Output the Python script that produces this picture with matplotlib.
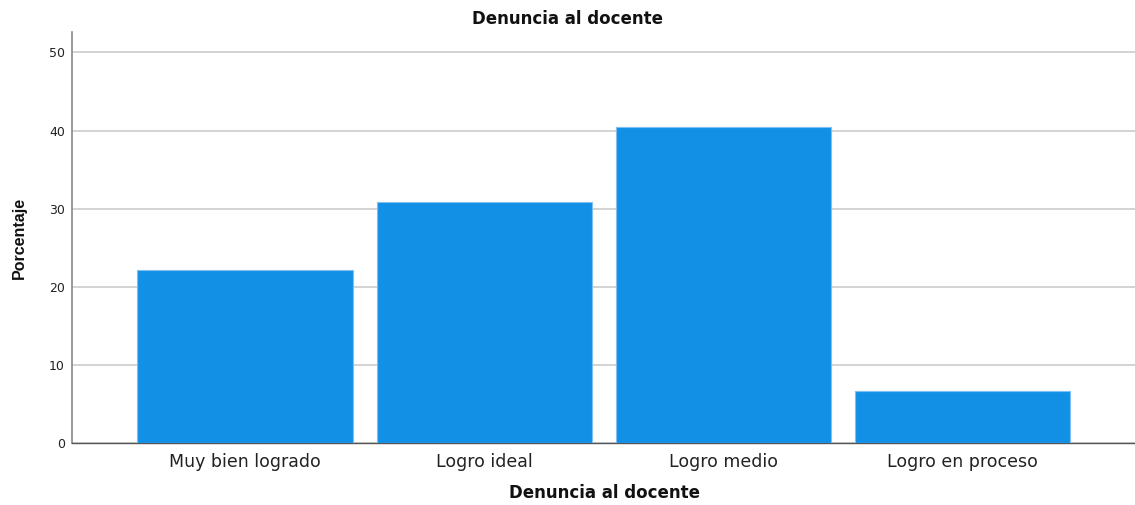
import matplotlib
matplotlib.use("Agg")
import matplotlib.pyplot as plt

categories = ["Muy bien logrado", "Logro ideal", "Logro medio", "Logro en proceso"]
percentages = [22.1, 30.8, 40.4, 6.7]
yticks = [0, 10, 20, 30, 40, 50]
title = "Denuncia al docente"
xlabel = "Denuncia al docente"
ylabel = "Porcentaje"

fig = plt.figure(figsize=(11.35, 5.05), dpi=100)
ax = fig.add_axes([0.0634, 0.1222, 0.9366, 0.8144])

x = list(range(len(categories)))
ax.bar(x, percentages, width=0.9, color="#1290E6", edgecolor="#7FC0F0", linewidth=0.8, zorder=3)

ax.set_xlim(-0.723, 3.72)
ax.set_ylim(0, 52.6)
ax.set_yticks(yticks)
ax.set_yticklabels([str(v) for v in yticks], fontsize=9, family="DejaVu Sans", color="#222222")
ax.set_xticks(x)
ax.set_xticklabels(categories, fontsize=12.5, family="DejaVu Sans", color="#222222")
ax.tick_params(axis="both", length=0)
ax.tick_params(axis="x", pad=7)
ax.tick_params(axis="y", pad=5)

ax.yaxis.grid(True, color="#CCCCCC", linewidth=1.2, zorder=0)
ax.set_axisbelow(True)
for s in ["top", "right"]:
    ax.spines[s].set_visible(False)
ax.spines["left"].set_color("#888888")
ax.spines["bottom"].set_color("#555555")
ax.spines["left"].set_linewidth(1.2)
ax.spines["bottom"].set_linewidth(1.0)

fig.text(0.5, 0.963, title, ha="center", va="center", fontsize=12, fontweight="bold",
         family="DejaVu Sans", color="#111111")
fig.text(0.533, 0.023, xlabel, ha="center", va="center", fontsize=12, fontweight="bold",
         family="DejaVu Sans", color="#111111")
fig.text(0.017, 0.529, ylabel, ha="center", va="center", rotation=90, fontsize=11.5,
         fontweight="bold", family="Liberation Sans", color="#111111")

fig.savefig("out.png", dpi=100)
